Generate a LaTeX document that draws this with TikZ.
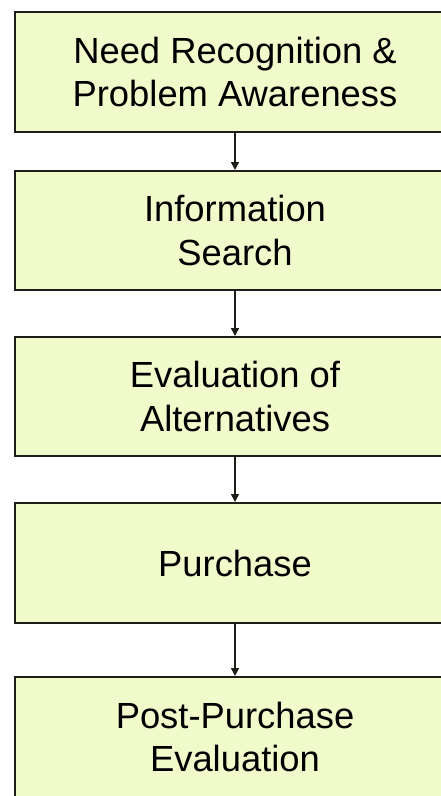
\documentclass[tikz,border=0pt]{standalone}
\usepackage{fontspec}
\setmainfont{Liberation Sans}
\usetikzlibrary{arrows.meta}
\definecolor{boxfill}{RGB}{240,250,203}
\definecolor{boxline}{RGB}{30,30,25}
\tikzset{
  stagebox/.style={draw=boxline, line width=2bp, fill=boxfill, rectangle,
    minimum width=440bp, inner sep=0pt, align=center,
    font=\fontsize{36.5}{44}\selectfont},
  flowarrow/.style={draw=boxline, line width=1.6bp, -{Triangle[length=8bp,width=8bp]}}
}
\begin{document}
\begin{tikzpicture}[x=1bp,y=-1bp]
\useasboundingbox (0,0) rectangle (441,796);
\clip (0,0) rectangle (441,796);
\fill[white] (0,0) rectangle (441,796);
\node[stagebox, minimum height=120bp] (s1) at (235,72) {Need Recognition \&\\Problem Awareness};
\node[stagebox, minimum height=119bp] (s2) at (235,230.5) {Information\\Search};
\node[stagebox, minimum height=119bp] (s3) at (235,396.5) {Evaluation of\\Alternatives};
\node[stagebox, minimum height=120bp] (s4) at (235,563) {Purchase};
\node[stagebox, minimum height=120bp] (s5) at (235,737) {Post-Purchase\\Evaluation};
\draw[flowarrow] (s1) -- (s2);
\draw[flowarrow] (s2) -- (s3);
\draw[flowarrow] (s3) -- (s4);
\draw[flowarrow] (s4) -- (s5);
\end{tikzpicture}
\end{document}
